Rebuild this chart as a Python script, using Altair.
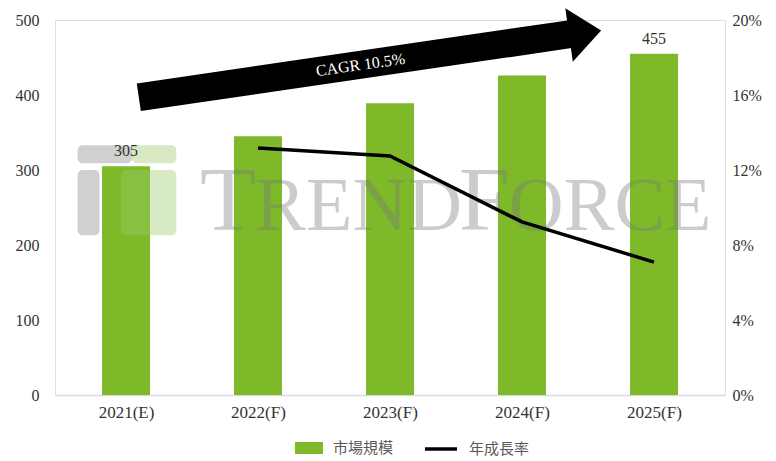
import altair as alt
import pandas as pd

# ---- data ----
categories = ["2021(E)", "2022(F)", "2023(F)", "2024(F)", "2025(F)"]
market_size = [305, 345, 389, 426, 455]
growth_rate = [None, 0.1317, 0.1275, 0.0923, 0.0709]
bar_labels = ["305", "", "", "", "455"]
left_ticks = [0, 100, 200, 300, 400, 500]
right_ticks = [0, 0.04, 0.08, 0.12, 0.16, 0.20]
series_bar = "市場規模"
series_line = "年成長率"
cagr_label = "CAGR 10.5%"

# annotation (arrow + watermark), in the chart's data units
arrow_x = [0.097, 3.36]
arrow_y = [397, 481]
arrow_head_x = [3.478]
arrow_head_y = [483]
cagr_x = [1.776]
cagr_y = [440]
wm_text = ["T", "REND", "F", "ORCE"]
wm_x = [0.56, 0.98, 2.52, 2.90]
wm_y = [220, 220, 220, 220]
wm_size = [92, 76, 92, 76]
logo_x = [-0.366, 0.045, -0.366, -0.037]
logo_x2 = [0.045, 0.381, -0.201, 0.381]
logo_y = [333, 333, 300, 300]
logo_y2 = [309, 309, 213, 213]
logo_col = ["#8a8a8a", "#9acb6a", "#8a8a8a", "#9acb6a"]

GREEN = "#7db928"
SERIF = "Liberation Serif"
CJK = "Noto Sans CJK TC"

df = pd.DataFrame({
    "idx": list(range(len(categories))),
    "cat": categories,
    "size": market_size,
    "rate": growth_rate,
    "label": bar_labels,
    "s1": [series_bar] * len(categories),
    "s2": [series_line] * len(categories),
})
arrow_df = pd.DataFrame({"idx": arrow_x, "size": arrow_y})
head_df = pd.DataFrame({"idx": arrow_head_x, "size": arrow_head_y})
cagr_df = pd.DataFrame({"idx": cagr_x, "size": cagr_y, "t": [cagr_label]})
wm_df = pd.DataFrame({"idx": wm_x, "size": wm_y, "t": wm_text, "fs": wm_size})
logo_df = pd.DataFrame({"idx": logo_x, "idx2": logo_x2, "size": logo_y,
                        "size2": logo_y2, "c": logo_col})

label_expr = "[" + ",".join("'%s'" % c for c in categories) + "][datum.value]"

x_enc = alt.X(
    "idx:Q",
    scale=alt.Scale(domain=[-0.5, len(categories) - 0.5], nice=False, zero=False),
    axis=alt.Axis(
        values=list(range(len(categories))), labelExpr=label_expr, title=None,
        ticks=False, grid=False, domainColor="#d9d9d9", domainWidth=1.5,
        labelFont=SERIF, labelFontSize=17, labelColor="#333333", labelPadding=9,
    ),
)
y_left = alt.Y(
    "size:Q",
    scale=alt.Scale(domain=[0, 500], nice=False),
    axis=alt.Axis(
        values=left_ticks, title=None, grid=False, domain=False, ticks=False,
        labelFont=SERIF, labelFontSize=16, labelColor="#333333", labelPadding=16,
    ),
)

bars = alt.Chart(df).mark_bar(size=48).encode(
    x=x_enc,
    y=y_left,
    fill=alt.Fill(
        "s1:N",
        scale=alt.Scale(domain=[series_bar], range=[GREEN]),
        legend=alt.Legend(
            title=None, orient="none", legendX=240, legendY=414, direction="horizontal",
            symbolType="M-1,-0.43H1V0.43H-1Z", symbolSize=784, symbolStrokeWidth=0,
            labelFont=CJK, labelFontSize=15, labelColor="#595959", labelOffset=10, padding=0,
        ),
    ),
)

logo = alt.Chart(logo_df).mark_rect(opacity=0.4, cornerRadius=5).encode(
    x=x_enc, x2="idx2:Q", y=y_left, y2="size2:Q", color=alt.Color("c:N", scale=None)
)

labels = alt.Chart(df).mark_text(
    baseline="alphabetic", dy=-10, font=SERIF, fontSize=16, color="#333333"
).encode(x=x_enc, y=y_left, text="label:N")

watermark = alt.Chart(wm_df).mark_text(
    align="left", baseline="alphabetic", font=SERIF, color="#7a7a7a", opacity=0.38
).encode(x=x_enc, y=y_left, text="t:N", size=alt.Size("fs:Q", scale=None))

shaft = alt.Chart(arrow_df).mark_line(
    strokeWidth=28, strokeCap="butt", color="black"
).encode(x=x_enc, y=y_left)

head = alt.Chart(head_df).mark_point(
    shape="M-0.6,-1L0.6,0L-0.6,1Z", size=2916, filled=True, color="black",
    opacity=1, angle=352,
).encode(x=x_enc, y=y_left)

cagr = alt.Chart(cagr_df).mark_text(
    angle=352, color="white", font=SERIF, fontSize=16, align="center", baseline="middle"
).encode(x=x_enc, y=y_left, text="t:N")

left_group = alt.layer(bars, logo, labels, watermark, shaft, head, cagr)

line = alt.Chart(df).transform_filter("isValid(datum.rate)").mark_line(
    strokeWidth=3.5
).encode(
    x=x_enc,
    y=alt.Y(
        "rate:Q",
        scale=alt.Scale(domain=[0, 0.2], nice=False),
        axis=alt.Axis(
            orient="right", values=right_ticks, format=".0%", title=None, grid=False,
            domain=False, ticks=False, labelFont=SERIF, labelFontSize=16,
            labelColor="#333333", labelPadding=7,
        ),
    ),
    stroke=alt.Stroke(
        "s2:N",
        scale=alt.Scale(domain=[series_line], range=["black"]),
        legend=alt.Legend(
            title=None, orient="none", legendX=368, legendY=411, direction="horizontal",
            symbolType="stroke", symbolSize=1024, symbolStrokeWidth=3.5,
            labelFont=CJK, labelFontSize=15, labelColor="#595959", labelOffset=10, padding=0,
        ),
    ),
)

chart = alt.layer(left_group, line).resolve_scale(y="independent").properties(
    width=670, height=375,
    autosize=alt.AutoSizeParams(type="none"),
    padding={"left": 55, "top": 20, "right": 51, "bottom": 66},
).configure_view(stroke=None).configure(background="white")

chart.save("out.html", embed_options={"renderer": "svg", "actions": False})
